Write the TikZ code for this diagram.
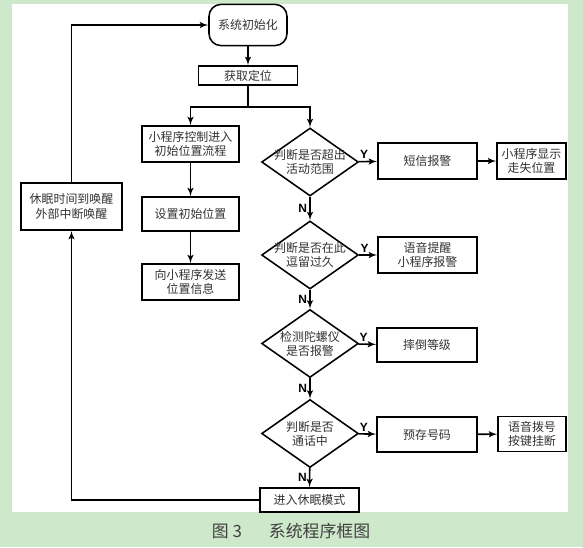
\documentclass[tikz,border=0pt]{standalone}
\usepackage{fontspec}
\setmainfont{Noto Sans CJK SC}
\newfontfamily\ynfont{Liberation Sans}
\usetikzlibrary{arrows,shapes.geometric}
\definecolor{bggreen}{RGB}{206,232,203}

\begin{document}
\begin{tikzpicture}[x=0.025cm,y=-0.025cm,line width=1.1pt,>=latex']
\tikzset{box/.style={draw,rectangle,align=center,inner sep=0pt,text=black!80,font=\fontsize{8.5}{10}\selectfont},
decision/.style={draw,diamond,minimum width=2.42cm,minimum height=1.7cm,inner sep=0pt},
dtext/.style={align=center,text=black!80,font=\fontsize{8.5}{10}\selectfont},
yn/.style={font=\ynfont\bfseries\fontsize{8.5}{10}\selectfont,inner sep=1.5pt},
flow/.style={->}}
\fill[bggreen] (0,0) rectangle (583,547);
\fill[white] (12,4) rectangle (568,512);
\node[box,rounded corners=0.3cm,minimum width=1.95cm,minimum height=1.03cm] (start) at (248,25) {系统初始化};
\node[box,minimum width=2.48cm,minimum height=0.48cm] (locate) at (248,75.5) {获取定位};
\node[box,minimum width=2.43cm,minimum height=0.9cm] (mini) at (190.5,144) {小程序控制进入\\初始位置流程};
\node[box,minimum width=2.43cm,minimum height=0.85cm] (setinit) at (190.5,214) {设置初始位置};
\node[box,minimum width=2.43cm,minimum height=0.9cm] (send) at (190.5,282) {向小程序发送\\位置信息};
\node[decision,label={[dtext]center:判断是否超出\\活动范围}] (d1) at (310,162) {};
\node[decision,label={[dtext]center:判断是否在此\\逗留过久}] (d2) at (310,255) {};
\node[decision,label={[dtext]center:检测陀螺仪\\是否报警}] (d3) at (310,343.5) {};
\node[decision,label={[dtext]center:判断是否\\通话中}] (d4) at (310,433.5) {};
\node[box,minimum width=2.48cm,minimum height=0.9cm] (sms) at (427.5,161) {短信报警};
\node[box,minimum width=1.72cm,minimum height=0.9cm] (show) at (531.5,161) {小程序显示\\走失位置};
\node[box,minimum width=2.48cm,minimum height=0.9cm] (voice) at (427.5,255) {语音提醒\\小程序报警};
\node[box,minimum width=2.5cm,minimum height=0.85cm] (fall) at (427,345) {摔倒等级};
\node[box,minimum width=2.5cm,minimum height=0.88cm] (store) at (427,434.5) {预存号码};
\node[box,minimum width=1.7cm,minimum height=0.88cm] (dial) at (532,434) {语音拨号\\按键挂断};
\node[box,minimum width=2.48cm,minimum height=0.6cm] (sleep) at (309.5,500) {进入休眠模式};
\node[box,minimum width=2.53cm,minimum height=1.18cm] (wake) at (71.5,206.5) {休眠时间到唤醒\\外部中断唤醒};
\node[text=black!75,font=\fontsize{12}{14}\selectfont] (cap) at (291,531) {图 3\hspace{1.6em}系统程序框图};

\draw[flow] (start) -- (locate);
\draw (locate.south) -- ++(0,21) coordinate (br);
\draw[flow] (br) -| (mini.north);
\draw[flow] (br) -| (d1.north);
\draw[flow] (mini) -- (setinit);
\draw[flow] (setinit) -- (send);
\draw[flow] (d1) -- node[yn,above,pos=0.3]{Y} (sms);
\draw[flow] (sms) -- (show);
\draw[flow] (d1) -- node[yn,left]{N} (d2);
\draw[flow] (d2) -- node[yn,above,pos=0.3]{Y} (voice);
\draw[flow] (d2) -- node[yn,left]{N} (d3);
\draw[flow] (d3) -- node[yn,above,pos=0.3]{Y} (fall);
\draw[flow] (d3) -- node[yn,left]{N} (d4);
\draw[flow] (d4) -- node[yn,above,pos=0.3]{Y} (store);
\draw[flow] (store) -- (dial);
\draw[flow] (d4) -- node[yn,left]{N} (sleep);
\draw[flow] (sleep.west) -| (wake.south);
\draw[flow] (wake.north) |- (start.west);
%\draw[flow] (send) -- (sleep);
\end{tikzpicture}
\end{document}
